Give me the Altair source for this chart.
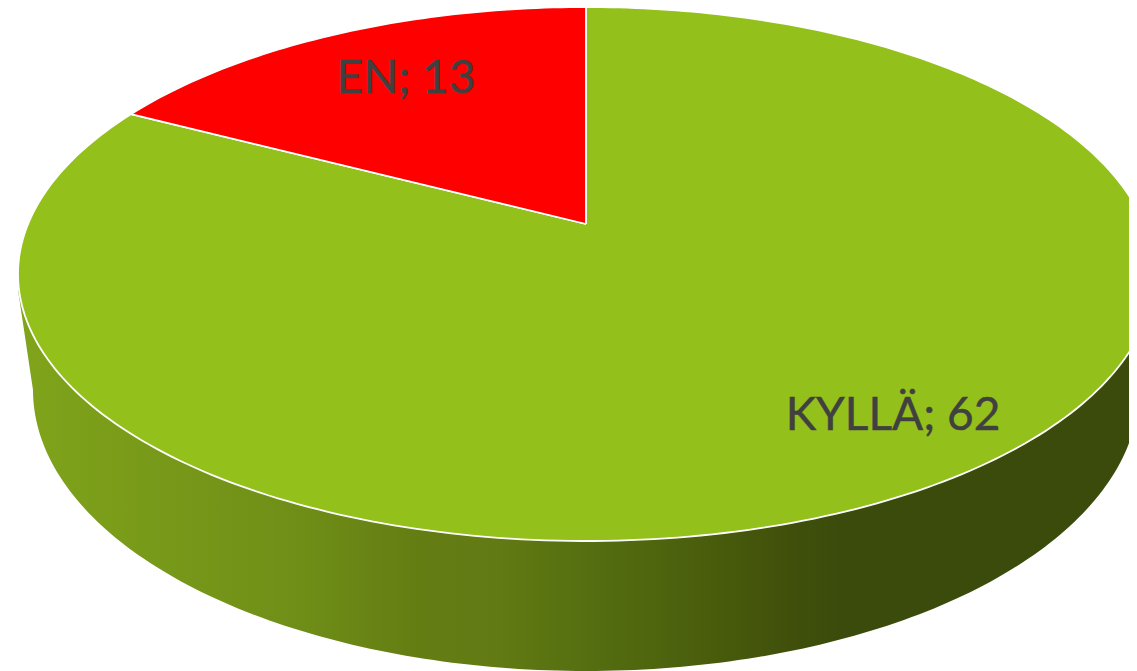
import math
import altair as alt
import pandas as pd

# Chart values
labels = ["KYLLÄ", "EN"]
values = [62, 13]
colors = ["#93c01b", "#ff0000"]

# Reference-frame geometry of the tilted pie
CX, CY, A, B = 586.0, 274.0, 568.0, 267.0
TILT = 50.0 / 267.0
BCX, BCY, BA, BB = 586.0, 390.0, 553.0, 281.0
W, H = 1121, 663
STEP = 1.0


def rim(phi_deg):
    p = math.radians(phi_deg)
    u, v = math.sin(p), math.cos(p)
    d = 1 + TILT * v
    xn = u * math.sqrt(1 - TILT ** 2) / d
    yn = (v + TILT) / d
    return CX + A * xn, CY - B * yn


def frange(start, stop):
    n = max(2, int(abs(stop - start) / STEP) + 1)
    return [start + (stop - start) * i / (n - 1) for i in range(n)]


def frame(points):
    return pd.DataFrame(
        [{"x": x, "y": y, "i": i} for i, (x, y) in enumerate(points)]
    )


xs = alt.X("x:Q", axis=None, scale=alt.Scale(domain=[8, 8 + W]))
ys = alt.Y("y:Q", axis=None, scale=alt.Scale(domain=[8 + H, 8]))
order = alt.Order("i:Q")

# Side wall: lower half of the bottom rim closed up behind the top disc
side_pts = []
for t in frange(180, 360):
    r = math.radians(t)
    side_pts.append((BCX + BA * math.cos(r), BCY - BB * math.sin(r)))
side_pts.append((CX + A, CY + 16))
side_pts.append((CX - A, CY + 16))
side_pts.append(side_pts[0])

side_fill = alt.Gradient(
    gradient="linear", x1=0, x2=1, y1=0, y2=0,
    stops=[
        alt.GradientStop(offset=0.0, color="#80a41b"),
        alt.GradientStop(offset=0.248, color="#6f8e17"),
        alt.GradientStop(offset=0.354, color="#647d13"),
        alt.GradientStop(offset=0.424, color="#617a13"),
        alt.GradientStop(offset=0.504, color="#556e10"),
        alt.GradientStop(offset=0.60, color="#4a5e0c"),
        alt.GradientStop(offset=0.68, color="#40500b"),
        alt.GradientStop(offset=0.724, color="#3b4b0b"),
        alt.GradientStop(offset=1.0, color="#3b4b0c"),
    ],
)

layers = [
    alt.Chart(frame(side_pts))
    .mark_line(fill=side_fill, strokeWidth=0, clip=True, interpolate="linear")
    .encode(x=xs, y=ys, order=order)
]

# Top slices, clockwise from twelve o'clock
total = sum(values)
start = 0.0
for label, value, color in zip(labels, values, colors):
    stop = start + 360.0 * value / total
    pts = [(CX, CY - B * TILT)] + [rim(a) for a in frange(start, stop)]
    pts.append(pts[0])
    layers.append(
        alt.Chart(frame(pts))
        .mark_line(fill=color, stroke="white", strokeWidth=1.8, clip=True,
                   strokeJoin="miter")
        .encode(x=xs, y=ys, order=order)
    )
    start = stop

# Data labels
label_df = pd.DataFrame(
    {"text": [f"{l}; {v}" for l, v in zip(labels, values)],
     "x": [893, 406], "y": [430, 93]}
)
layers.append(
    alt.Chart(label_df)
    .mark_text(font="Lato", fontSize=46, color="#404040", align="center",
               baseline="alphabetic", stroke="#404040", strokeWidth=0.5)
    .encode(x=xs, y=ys, text="text:N")
)

chart = (
    alt.layer(*layers)
    .properties(width=W, height=H, padding=0, background="white",
                autosize=alt.AutoSizeParams(type="none"))
    .configure_view(stroke=None)
)
chart.save("out.html", embed_options={"renderer": "svg", "actions": False})
